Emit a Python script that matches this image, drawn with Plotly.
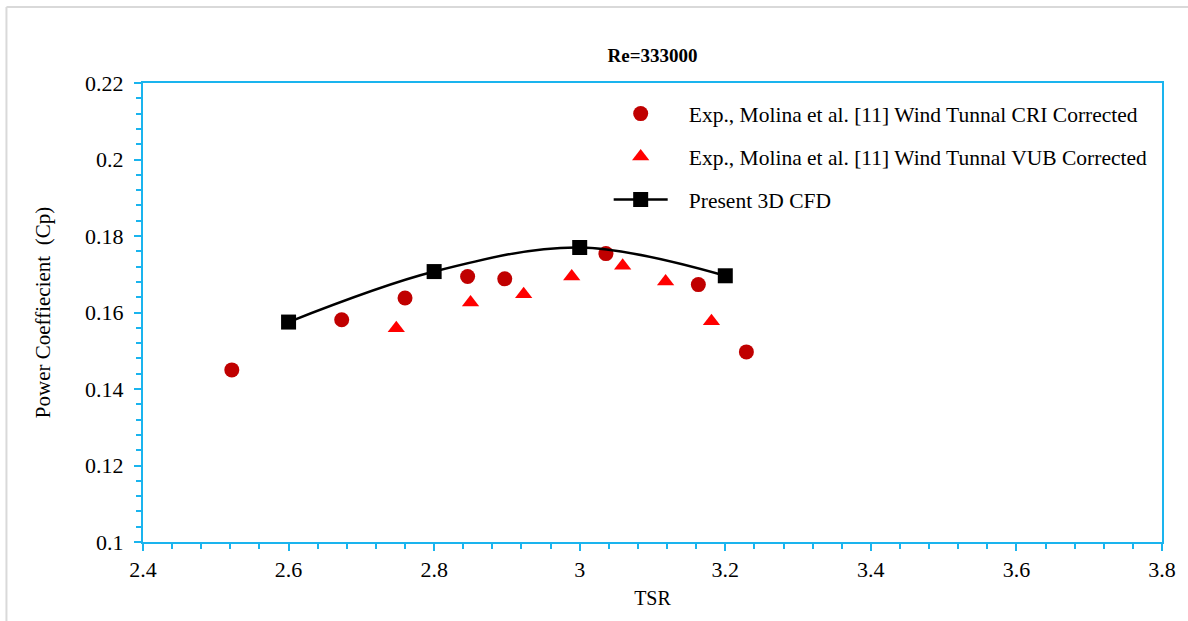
import plotly.graph_objects as go

# Experimental data, CRI wind tunnel (corrected)
tsr_cri = [2.522, 2.673, 2.760, 2.846, 2.897, 3.036, 3.163, 3.229]
cp_cri = [0.1450, 0.1581, 0.1638, 0.1694, 0.1688, 0.1754, 0.1673, 0.1497]

# Experimental data, VUB wind tunnel (corrected)
tsr_vub = [2.748, 2.850, 2.923, 2.989, 3.059, 3.118, 3.181]
cp_vub = [0.1559, 0.1626, 0.1648, 0.1694, 0.1722, 0.1681, 0.1577]

# Present 3D CFD results
tsr_cfd = [2.6, 2.8, 3.0, 3.2]
cp_cfd = [0.1575, 0.1707, 0.1770, 0.1696]

x_ticks = [2.4, 2.6, 2.8, 3.0, 3.2, 3.4, 3.6, 3.8]
x_tick_text = ["2.4", "2.6", "2.8", "3", "3.2", "3.4", "3.6", "3.8"]
y_ticks = [0.1, 0.12, 0.14, 0.16, 0.18, 0.2, 0.22]
y_tick_text = ["0.1", "0.12", "0.14", "0.16", "0.18", "0.2", "0.22"]

FONT = "Liberation Serif, Times New Roman, serif"
AXIS_BLUE = "#1AB4EE"
PAD = "\u00a0\u00a0\u00a0"  # extra gap between legend symbol and label

fig = go.Figure()

fig.add_trace(go.Scatter(
    x=tsr_cri, y=cp_cri, mode="markers",
    name=PAD + "Exp., Molina et al. [11] Wind Tunnal CRI Corrected",
    legendgroup="cri",
    marker=dict(symbol="circle", size=15, color="#C00000"),
))
fig.add_trace(go.Scatter(
    x=tsr_vub, y=cp_vub, mode="markers",
    name=PAD + "Exp., Molina et al. [11] Wind Tunnal VUB Corrected",
    legendgroup="vub",
    marker=dict(symbol="triangle-up", size=15, color="#FF0000"),
))
fig.add_trace(go.Scatter(
    x=tsr_cfd, y=cp_cfd, mode="lines+markers",
    name=PAD + "Present 3D CFD",
    legendgroup="cfd",
    line=dict(color="black", width=2.5, shape="spline", smoothing=1.0),
    marker=dict(symbol="square", size=15, color="black"),
))

axis_common = dict(
    showline=True, linecolor=AXIS_BLUE, linewidth=2, mirror=True,
    showgrid=False, zeroline=False,
    ticks="outside", tickcolor=AXIS_BLUE, tickwidth=1.5, ticklen=7,
    tickfont=dict(family=FONT, size=22, color="black"),
)

fig.update_xaxes(
    range=[2.4, 3.8], tickvals=x_ticks, ticktext=x_tick_text,
    minor=dict(dtick=0.04, ticks="outside", ticklen=5, tickcolor=AXIS_BLUE, tickwidth=1.5),
    title=dict(text="TSR", font=dict(family=FONT, size=20, color="black"), standoff=10),
    **axis_common,
)
fig.update_yaxes(
    range=[0.1, 0.22], tickvals=y_ticks, ticktext=y_tick_text,
    minor=dict(dtick=0.004, ticks="outside", ticklen=5, tickcolor=AXIS_BLUE, tickwidth=1.5),
    title=dict(text="Power Coeffiecient  (Cp)", font=dict(family=FONT, size=21, color="black"), standoff=29),
    ticklabelstandoff=6,
    **axis_common,
)

# outer chart frame (top and left edges)
frame = dict(type="line", xref="paper", yref="paper", line=dict(color="#D9D9D9", width=2))
fig.add_shape(x0=-0.134, x1=1.1, y0=1.1656, y1=1.1656, **frame)
fig.add_shape(x0=-0.134, x1=-0.134, y0=-0.3, y1=1.1656, **frame)

fig.update_layout(
    width=1188, height=621,
    margin=dict(l=143, r=26, t=83, b=79),
    paper_bgcolor="white", plot_bgcolor="white",
    title=dict(text="<b>Re=333000</b>", x=0.5 * (143 + 1162) / 1188, xanchor="center",
               y=1 - 55 / 621, yanchor="middle",
               font=dict(family=FONT, size=19, color="black")),
    legend=dict(
        x=0.457, y=0.978, xanchor="left", yanchor="top",
        font=dict(family=FONT, size=21.5, color="black"),
        bgcolor="rgba(0,0,0,0)", itemwidth=54, tracegroupgap=12,
    ),
    showlegend=True,
)

fig.write_html("out.html")
